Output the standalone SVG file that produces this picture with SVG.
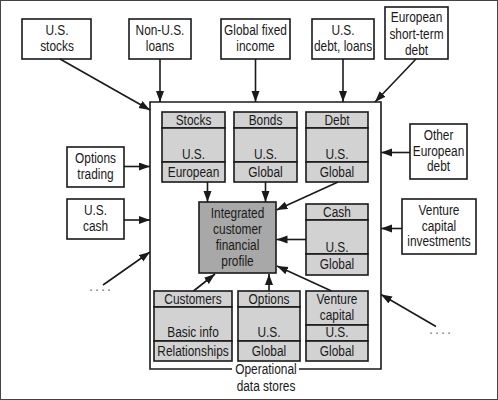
<svg xmlns="http://www.w3.org/2000/svg" width="498" height="400" viewBox="0 0 498 400">
<style>
text{font-family:"Liberation Sans",Arial,sans-serif;font-size:14.5px;fill:#1a1a1a;text-anchor:middle;transform-box:fill-box;transform-origin:center;transform:scaleX(0.82)}
.ext{fill:#fff;stroke:#1a1a1a;stroke-width:1.6}
.cell{fill:#d2d2d2;stroke:#1a1a1a;stroke-width:1.6}
.core{fill:#a8a8a8;stroke:#1a1a1a;stroke-width:1.6}
.ln{stroke:#1a1a1a;stroke-width:1.6;fill:none}
.conn line{stroke:#1a1a1a;stroke-width:1.6;marker-end:url(#ah)}
text.dots{fill:#777;letter-spacing:2px;transform:none}
</style>
<defs>
<marker id="ah" markerUnits="userSpaceOnUse" markerWidth="12" markerHeight="10" refX="11" refY="4" orient="auto">
<path d="M0,0 L11,4 L0,8 Z" fill="#1a1a1a"/>
</marker>
</defs>
<rect x="0.5" y="0.5" width="497" height="399" fill="#fff" stroke="#444" stroke-width="1"/>

<g id="frame">
<path class="ln" d="M232,369 H150 V102 H381 V369 H299"/>
<text x="266" y="374">Operational</text>
<text x="266" y="391">data stores</text>
</g>

<g id="us-stocks"><rect class="ext" x="22" y="19" width="69" height="40"/><text x="57" y="35.5">U.S.</text><text x="57" y="51.5">stocks</text></g>
<g id="non-us-loans"><rect class="ext" x="129" y="19" width="62" height="40"/><text x="160" y="35.5">Non-U.S.</text><text x="160" y="51.5">loans</text></g>
<g id="global-fixed-income"><rect class="ext" x="221" y="19" width="69" height="40"/><text x="255.5" y="35.5">Global fixed</text><text x="255.5" y="51.5">income</text></g>
<g id="us-debt-loans"><rect class="ext" x="312" y="19" width="62" height="40"/><text x="343" y="35.5">U.S.</text><text x="343" y="51.5">debt, loans</text></g>
<g id="european-short-term-debt"><rect class="ext" x="385" y="7" width="63" height="52"/><text x="416.5" y="22.5">European</text><text x="416.5" y="39">short-term</text><text x="416.5" y="55">debt</text></g>
<g id="options-trading"><rect class="ext" x="67" y="147" width="57" height="40"/><text x="95.5" y="163.5">Options</text><text x="95.5" y="179">trading</text></g>
<g id="us-cash"><rect class="ext" x="67" y="199" width="57" height="40"/><text x="95.5" y="215">U.S.</text><text x="95.5" y="231.5">cash</text></g>
<g id="other-european-debt"><rect class="ext" x="410" y="124" width="57" height="55"/><text x="438.5" y="140">Other</text><text x="438.5" y="156.5">European</text><text x="438.5" y="171.5">debt</text></g>
<g id="venture-capital-investments"><rect class="ext" x="402" y="199" width="74" height="55"/><text x="439" y="215">Venture</text><text x="439" y="231.5">capital</text><text x="439" y="246.5">investments</text></g>
<g id="dots-left"><text class="dots" x="101" y="291">....</text></g>
<g id="dots-right"><text class="dots" x="441" y="334">....</text></g>

<g id="stocks">
<rect class="cell" x="162" y="112" width="63" height="16"/><rect class="cell" x="162" y="128" width="63" height="34"/><rect class="cell" x="162" y="162" width="63" height="20"/>
<text x="193.5" y="125">Stocks</text><text x="193.5" y="159.5">U.S.</text><text x="193.5" y="177">European</text>
</g>
<g id="bonds">
<rect class="cell" x="234" y="112" width="63" height="16"/><rect class="cell" x="234" y="128" width="63" height="34"/><rect class="cell" x="234" y="162" width="63" height="20"/>
<text x="265.5" y="125">Bonds</text><text x="265.5" y="159.5">U.S.</text><text x="265.5" y="177">Global</text>
</g>
<g id="debt">
<rect class="cell" x="306" y="112" width="62" height="16"/><rect class="cell" x="306" y="128" width="62" height="34"/><rect class="cell" x="306" y="162" width="62" height="20"/>
<text x="337" y="125">Debt</text><text x="337" y="159.5">U.S.</text><text x="337" y="177">Global</text>
</g>
<g id="integrated-profile">
<rect class="core" x="199" y="202" width="77" height="71"/>
<text x="237.5" y="218.5">Integrated</text><text x="237.5" y="234.5">customer</text><text x="237.5" y="250.5">financial</text><text x="237.5" y="266.5">profile</text>
</g>
<g id="cash">
<rect class="cell" x="306" y="204" width="62" height="16"/><rect class="cell" x="306" y="220" width="62" height="34"/><rect class="cell" x="306" y="254" width="62" height="21"/>
<text x="337" y="217.5">Cash</text><text x="337" y="252">U.S.</text><text x="337" y="269.5">Global</text>
</g>
<g id="customers">
<rect class="cell" x="154" y="291" width="78" height="16"/><rect class="cell" x="154" y="307" width="78" height="34"/><rect class="cell" x="154" y="341" width="78" height="20"/>
<text x="193" y="304.5">Customers</text><text x="193" y="337.5">Basic info</text><text x="193" y="356">Relationships</text>
</g>
<g id="options">
<rect class="cell" x="238" y="291" width="62" height="16"/><rect class="cell" x="238" y="307" width="62" height="34"/><rect class="cell" x="238" y="341" width="62" height="20"/>
<text x="269" y="304.5">Options</text><text x="269" y="337.5">U.S.</text><text x="269" y="356">Global</text>
</g>
<g id="venture-capital">
<rect class="cell" x="306" y="291" width="62" height="34"/><rect class="cell" x="306" y="325" width="62" height="16"/><rect class="cell" x="306" y="341" width="62" height="20"/>
<text x="337" y="304.5">Venture</text><text x="337" y="320.5">capital</text><text x="337" y="337.5">U.S.</text><text x="337" y="356">Global</text>
</g>

<g id="connectors" class="conn">
<line x1="60" y1="59" x2="150" y2="110"/>
<line x1="160" y1="59" x2="160" y2="102"/>
<line x1="255.5" y1="59" x2="255.5" y2="102"/>
<line x1="343" y1="59" x2="343" y2="102"/>
<line x1="416" y1="59" x2="375" y2="102"/>
<line x1="124" y1="166.5" x2="150" y2="166.5"/>
<line x1="124" y1="220" x2="150" y2="220"/>
<line x1="103" y1="285" x2="150" y2="252"/>
<line x1="410" y1="152.5" x2="381" y2="152.5"/>
<line x1="402" y1="228.5" x2="381" y2="228.5"/>
<line x1="436" y1="326.5" x2="381" y2="294.5"/>
<line x1="207.5" y1="182" x2="207.5" y2="202"/>
<line x1="265.5" y1="182" x2="265.5" y2="202"/>
<line x1="338" y1="182" x2="276.5" y2="210"/>
<line x1="306" y1="239.5" x2="276.5" y2="239.5"/>
<line x1="193.5" y1="291" x2="215" y2="274"/>
<line x1="269" y1="291" x2="269" y2="274"/>
<line x1="331.5" y1="291" x2="277" y2="266"/>
</g>
</svg>
